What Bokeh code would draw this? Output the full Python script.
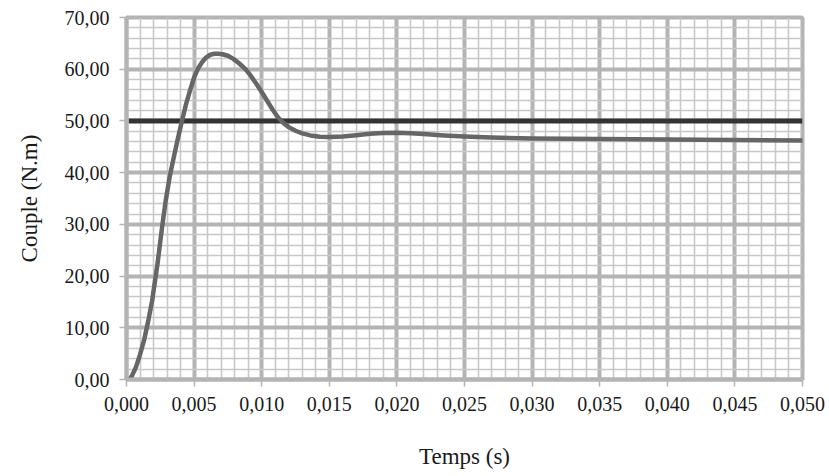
from bokeh.plotting import figure
from bokeh.models import Range1d, FixedTicker, CustomJSTickFormatter
from bokeh.embed import file_html
from bokeh.resources import INLINE

# Data
temps = [0.0002, 0.0004, 0.0007, 0.0010, 0.0013, 0.0016, 0.0019, 0.0023, 0.0026,
         0.0029, 0.0032, 0.0035, 0.0038, 0.0041, 0.0044, 0.0047, 0.0050, 0.0053,
         0.0056, 0.0059, 0.0062, 0.0065, 0.0068, 0.0071, 0.0075, 0.0079, 0.0083,
         0.0088, 0.0092, 0.0096, 0.0100, 0.0104, 0.0108, 0.0112, 0.0116, 0.0120,
         0.0125, 0.0130, 0.0136, 0.0143, 0.0150, 0.0160, 0.0170, 0.0180, 0.0190,
         0.0200, 0.0210, 0.0220, 0.0235, 0.0250, 0.0270, 0.0300, 0.0350, 0.0400,
         0.0450, 0.0500]
couple = [0.0, 0.7, 2.4, 4.8, 7.6, 11.2, 15.3, 22.5, 28.8,
          34.6, 39.3, 43.0, 46.6, 50.0, 53.2, 55.9, 58.4, 60.2,
          61.4, 62.3, 62.8, 63.0, 63.0, 62.9, 62.6, 62.0, 61.2,
          60.0, 58.7, 57.2, 55.6, 53.9, 52.2, 50.7, 49.6, 48.8,
          48.1, 47.6, 47.2, 46.95, 46.9, 47.0, 47.25, 47.5, 47.65,
          47.7, 47.6, 47.45, 47.2, 47.0, 46.8, 46.6, 46.5, 46.4,
          46.3, 46.2]
consigne_t = [0.00017, 0.050]
consigne = [50.0, 50.0]

x_major = [0.0, 0.005, 0.010, 0.015, 0.020, 0.025, 0.030, 0.035, 0.040, 0.045, 0.050]
y_major = [0, 10, 20, 30, 40, 50, 60, 70]
x_minor = [i / 1000 for i in range(0, 51)]
y_minor = [i * 2 for i in range(0, 36)]

FONT = "Liberation Serif"
GRID_MAJ = "#b4b4b4"
GRID_MIN = "#c8c8c8"
TEXT = "#1a1a1a"

p = figure(width=828, height=476, output_backend="svg", toolbar_location=None,
           x_range=Range1d(0, 0.05), y_range=Range1d(0, 70),
           min_border_left=126, min_border_right=26, min_border_top=17,
           min_border_bottom=97)

p.xaxis.ticker = FixedTicker(ticks=x_major, minor_ticks=x_minor)
p.yaxis.ticker = FixedTicker(ticks=y_major, minor_ticks=y_minor)
p.xaxis.formatter = CustomJSTickFormatter(code="return tick.toFixed(3).replace('.', ',');")
p.yaxis.formatter = CustomJSTickFormatter(code="return tick.toFixed(2).replace('.', ',');")

for g in (p.xgrid, p.ygrid):
    g.grid_line_color = GRID_MAJ
    g.grid_line_width = 4
    g.minor_grid_line_color = GRID_MIN
    g.minor_grid_line_width = 1.6
    g.level = "underlay"

p.outline_line_color = GRID_MAJ
p.outline_line_width = 4
p.background_fill_color = "white"
p.border_fill_color = "white"

for ax in (p.xaxis, p.yaxis):
    ax.axis_line_color = GRID_MAJ
    ax.axis_line_width = 4
    ax.major_tick_line_color = GRID_MAJ
    ax.major_tick_line_width = 1.5
    ax.major_tick_out = 7
    ax.major_tick_in = 0
    ax.minor_tick_line_color = None
    ax.major_label_text_font = FONT
    ax.major_label_text_font_size = "20px"
    ax.major_label_text_color = TEXT
    ax.major_label_standoff = 10
    ax.axis_label_text_font = FONT
    ax.axis_label_text_font_size = "23px"
    ax.axis_label_text_font_style = "normal"
    ax.axis_label_text_color = TEXT

p.xaxis.axis_label = "Temps (s)"
p.yaxis.axis_label = "Couple (N.m)"
p.xaxis.axis_label_standoff = 30
p.yaxis.axis_label_standoff = 20

p.line(consigne_t, consigne, line_color="#333333", line_width=5)
p.line(temps, couple, line_color="#666666", line_width=4.5, line_join="round", line_cap="round")

open("out.html", "w").write(file_html(p, INLINE))
